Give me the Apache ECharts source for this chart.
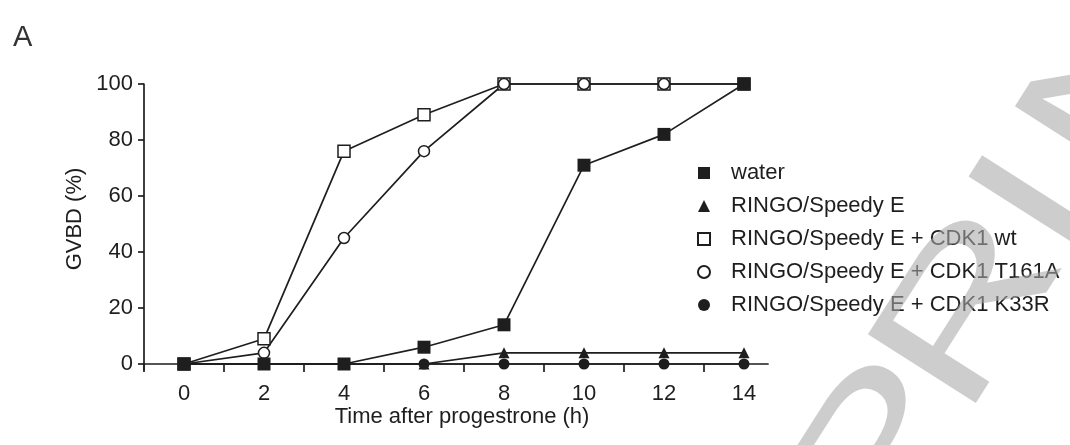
<!DOCTYPE html>
<html>
<head>
<meta charset="utf-8">
<script src="https://cdn.jsdelivr.net/npm/echarts@6/dist/echarts.min.js"></script>
<style>html,body{margin:0;padding:0;background:#fff}#c{width:1070px;height:445px}</style>
</head>
<body>
<div id="c"></div>
<script>
// ---- data ----
const times = [0, 2, 4, 6, 8, 10, 12, 14];
const water = [0, 0, 0, 6, 14, 71, 82, 100];
const ringo = [0, 0, 0, 0, 4, 4, 4, 4];
const cdk1wt = [0, 9, 76, 89, 100, 100, 100, 100];
const t161a = [0, 4, 45, 76, 100, 100, 100, 100];
const k33r = [0, 0, 0, 0, 0, 0, 0, 0];
const seriesNames = ['water', 'RINGO/Speedy E', 'RINGO/Speedy E + CDK1 wt', 'RINGO/Speedy E + CDK1 T161A', 'RINGO/Speedy E + CDK1 K33R'];
const xTickLabels = ['0', '2', '4', '6', '8', '10', '12', '14'];
const watermarkLetters = ['P', 'R', 'I', 'N'];

// ---- style ----
const FONT = "'Liberation Sans', Arial, Helvetica, sans-serif";
const INK = '#1e1e1e';
const LW = 1.7;
const FS = 22;

function pairs(vals) { return times.map((t, i) => [t, vals[i]]); }
function mk(name, vals, symbol, size, open) {
  return {
    type: 'line', name: name, data: pairs(vals), xAxisIndex: 0, yAxisIndex: 0,
    symbol: symbol, symbolSize: size, showSymbol: true, clip: false,
    lineStyle: { color: INK, width: LW },
    itemStyle: { color: open ? '#ffffff' : INK, borderColor: INK, borderWidth: open ? 1.5 : 0, opacity: 1 },
    emphasis: { disabled: true }, animation: false
  };
}

const wmPos = [[882, 455], [973, 312], [1040, 207], [1120, 84]];
const wmRot = 57.5 * Math.PI / 180;
const graphics = watermarkLetters.map((ch, i) => ({
  type: 'text', x: wmPos[i][0], y: wmPos[i][1], rotation: wmRot, scaleX: 1.45, scaleY: 1, z: 100, silent: true,
  style: { text: ch, fill: 'rgba(169,169,169,0.58)', font: '186px ' + FONT,
           align: 'center', verticalAlign: 'middle', textAlign: 'center', textVerticalAlign: 'middle' }
}));

const chart = echarts.init(document.getElementById('c'), null, { renderer: 'canvas' });
chart.setOption({
  animation: false,
  backgroundColor: '#ffffff',
  title: { text: 'A', left: 8, top: 18, textStyle: { fontSize: 29, fontWeight: 'normal', color: '#333', fontFamily: FONT } },
  grid: [
    { left: 144, right: 302, top: 84, bottom: 75.4, containLabel: false },
    { left: 144, width: 560, top: 84, bottom: 81, containLabel: false }
  ],
  xAxis: [
    {
      type: 'value', gridIndex: 0, min: -1, max: 14.6, interval: 1,
      axisLine: { show: true, onZero: true, lineStyle: { color: INK, width: LW } },
      axisTick: { show: false }, splitLine: { show: false },
      axisLabel: {
        fontSize: FS, color: INK, fontFamily: FONT, margin: 13,
        formatter: function (v) { const i = times.indexOf(v); return i >= 0 ? xTickLabels[i] : ''; }
      },
      name: 'Time after progestrone (h)', nameLocation: 'middle', nameGap: 36, nameMoveOverlap: false,
      nameTextStyle: { fontSize: FS, color: INK, fontFamily: FONT, padding: [0, 0, 0, 12] }
    },
    {
      type: 'value', gridIndex: 1, min: 0, max: 14, interval: 2,
      axisLine: { show: false }, axisLabel: { show: false }, splitLine: { show: false },
      axisTick: { show: true, length: 8, inside: false, lineStyle: { color: INK, width: LW } }
    }
  ],
  yAxis: [
    {
      type: 'value', gridIndex: 0, min: -2, max: 100,
      axisLine: { show: true, onZero: false, lineStyle: { color: INK, width: LW } },
      axisTick: { show: false }, axisLabel: { show: false }, splitLine: { show: false }
    },
    {
      type: 'value', gridIndex: 1, min: 0, max: 100, interval: 20,
      axisLine: { show: false }, splitLine: { show: false },
      axisTick: { show: true, length: 6, inside: false, lineStyle: { color: INK, width: LW } },
      axisLabel: { fontSize: FS, color: INK, fontFamily: FONT, margin: 11 },
      name: 'GVBD (%)', nameLocation: 'middle', nameGap: 58, nameMoveOverlap: false,
      nameTextStyle: { fontSize: FS, color: INK, fontFamily: FONT, padding: [0, 0, 0, 10] }
    }
  ],
  legend: {
    orient: 'vertical', left: 692, top: 157, itemWidth: 12, itemHeight: 12, itemGap: 11,
    selectedMode: false,
    textStyle: { fontSize: FS, color: INK, fontFamily: FONT, padding: [0, 0, 0, 16] },
    data: [
      { name: seriesNames[0], icon: 'rect' },
      { name: seriesNames[1], icon: 'triangle' },
      { name: seriesNames[2], icon: 'rect' },
      { name: seriesNames[3], icon: 'circle' },
      { name: seriesNames[4], icon: 'circle' }
    ]
  },
  series: [
    mk(seriesNames[2], cdk1wt, 'rect', 12, true),
    mk(seriesNames[3], t161a, 'circle', 11, true),
    mk(seriesNames[1], ringo, 'triangle', 11, false),
    mk(seriesNames[4], k33r, 'circle', 11, false),
    mk(seriesNames[0], water, 'rect', 13, false)
  ],
  graphic: graphics
});
</script>
</body>
</html>
